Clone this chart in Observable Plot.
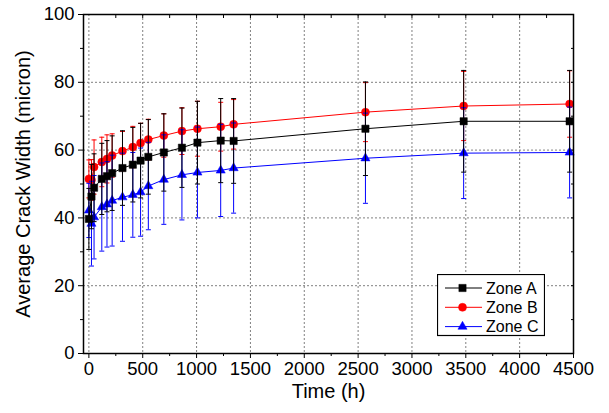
<!DOCTYPE html>
<html><head><meta charset="utf-8">
<script src="https://cdn.jsdelivr.net/npm/d3@7"></script>
<script src="https://cdn.jsdelivr.net/npm/@observablehq/plot@0.6"></script>
<style>
body{margin:0;background:#fff;font-family:"Liberation Sans",Arial,sans-serif;}
#wrap{position:relative;width:609px;height:413px;}
</style></head><body><div id="wrap"></div>
<script>
// time in hours
const times = [0, 24, 48, 120, 168, 216, 312, 408, 480, 552, 696, 864, 1008, 1224, 1344, 2568, 3480, 4464];
const zoneA = [39.7, 46.3, 48.9, 51.5, 52.3, 53.2, 54.7, 55.7, 56.9, 58.0, 59.3, 60.7, 62.2, 62.8, 62.7, 66.3, 68.5, 68.5];
const errA  = [9, 9.5, 10, 10.5, 10.5, 11, 11, 11, 11, 11, 11.4, 11.7, 12.2, 12.4, 12.5, 13.8, 15, 15];
const zoneB = [51.5, 51.2, 55.0, 56.5, 57.4, 58.4, 59.7, 60.9, 62.1, 63.1, 64.3, 65.6, 66.3, 66.9, 67.6, 71.2, 73.0, 73.6];
const errB  = [5.6, 6, 8, 7.3, 7.1, 6.4, 5.8, 6.1, 5.8, 6, 6.4, 6.9, 8.1, 7.2, 7.3, 8.7, 10.2, 9.8];
const zoneC = [42.2, 38.3, 40.2, 43.2, 44.0, 45.1, 46.1, 46.8, 47.6, 49.4, 51.3, 52.7, 53.4, 54.0, 54.7, 57.6, 59.1, 59.3];
const errC  = [8, 12.5, 12.3, 13, 12.6, 13.4, 13, 12.5, 13, 12.9, 13.2, 13.3, 13.4, 13.6, 13.3, 13.3, 13.4, 13.4];

const seriesNames = ["Zone A", "Zone B", "Zone C"];
const xMajor = d3.range(0, 4501, 500);
const xMinor = d3.range(250, 4500, 500);
const yMajor = d3.range(0, 101, 20);
const yMinor = d3.range(10, 100, 20);
const xGrid = d3.range(0, 4001, 500);
const yGrid = d3.range(20, 81, 20);

const styles = {
  "Zone A": {color: "#000000", symbol: "square", r: 4.1},
  "Zone B": {color: "#ff0000", symbol: "circle", r: 4},
  "Zone C": {color: "#0000ff", symbol: "triangle", r: 3.4}
};
const values = {"Zone A": [zoneA, errA], "Zone B": [zoneB, errB], "Zone C": [zoneC, errC]};
function rows(name) {
  const [v, e] = values[name];
  return times.map((t, i) => ({t, v: v[i], e: e[i]}));
}
const cap = {draw(ctx) { ctx.moveTo(-2.5, 0); ctx.lineTo(2.5, 0); }};

function seriesMarks(name) {
  const s = styles[name], data = rows(name);
  return [
    Plot.ruleX(data, {x: "t", y1: d => d.v - d.e, y2: d => d.v + d.e, stroke: s.color, strokeWidth: 1}),
    Plot.dot(data, {x: "t", y: d => d.v - d.e, symbol: cap, stroke: s.color, fill: "none", strokeWidth: 1}),
    Plot.dot(data, {x: "t", y: d => d.v + d.e, symbol: cap, stroke: s.color, fill: "none", strokeWidth: 1}),
    Plot.line(data, {x: "t", y: "v", stroke: s.color, strokeWidth: 1}),
    Plot.dot(data, {x: "t", y: "v", symbol: s.symbol, r: s.r, fill: s.color, stroke: s.color, strokeWidth: 0.5})
  ];
}

const chart = Plot.plot({
  width: 609, height: 413,
  marginLeft: 83, marginRight: 36, marginTop: 14, marginBottom: 60,
  style: {fontFamily: "'Liberation Sans', Arial, sans-serif", fontSize: "18.5px", color: "#000", background: "#fff"},
  x: {domain: [-50, 4500]},
  y: {domain: [0, 100]},
  marks: [
    Plot.gridX(xGrid, {stroke: "#808080", strokeOpacity: 1, strokeDasharray: "2,2", strokeWidth: 1}),
    Plot.gridY(yGrid, {stroke: "#808080", strokeOpacity: 1, strokeDasharray: "2,2", strokeWidth: 1}),
    Plot.axisX({ticks: xMajor, tickSize: 5, tickPadding: 3, label: null, tickFormat: d => String(d)}),
    Plot.axisX({ticks: xMinor, tickSize: 3, label: null, tickFormat: () => ""}),
    Plot.axisY({ticks: yMajor, tickSize: 5, tickPadding: 4, label: null, tickFormat: d => String(d)}),
    Plot.axisY({ticks: yMinor, tickSize: 3, label: null, tickFormat: () => ""}),
    Plot.axisY({anchor: "right", ticks: d3.range(10, 100, 10), tickSize: -3, label: null, tickFormat: () => ""}),
    Plot.axisX({anchor: "top", ticks: d3.range(250, 4500, 250), tickSize: -3, label: null, tickFormat: () => ""}),
    ...seriesMarks("Zone B"),
    ...seriesMarks("Zone C"),
    ...seriesMarks("Zone A"),
    Plot.frame({stroke: "#000", strokeWidth: 1.5}),
    Plot.text(["Time (h)"], {frameAnchor: "bottom", textAnchor: "middle", dy: 44, fontSize: 20, fill: "#000"}),
    Plot.text(["Average Crack Width (micron)"], {frameAnchor: "left", textAnchor: "middle", dx: -60, rotate: -90, fontSize: 20, fill: "#000"})
  ]
});
const wrap = document.getElementById("wrap");
wrap.appendChild(chart);

// Legend
const leg = d3.create("svg").attr("width", 108).attr("height", 63)
  .style("position", "absolute").style("left", "437px").style("top", "274px");
leg.append("rect").attr("x", 0.5).attr("y", 0.5).attr("width", 107).attr("height", 61)
  .attr("fill", "#fff").attr("stroke", "#000").attr("stroke-width", 1.2);
seriesNames.forEach((name, i) => {
  const s = styles[name];
  const cy = 14 + i * 19.3;
  leg.append("line").attr("x1", 8).attr("x2", 45).attr("y1", cy).attr("y2", cy)
    .attr("stroke", s.color).attr("stroke-width", 1);
  const sym = {square: d3.symbolSquare, circle: d3.symbolCircle, triangle: d3.symbolTriangle}[s.symbol];
  leg.append("path").attr("d", d3.symbol(sym, Math.PI * s.r * s.r)())
    .attr("transform", `translate(25.5,${cy})`).attr("fill", s.color).attr("stroke", s.color).attr("stroke-width", 0.5);
  leg.append("text").attr("x", 49).attr("y", cy).attr("dy", "0.35em")
    .attr("font-size", 16).attr("font-family", "'Liberation Sans', Arial, sans-serif").attr("fill", "#000").text(name);
});
wrap.appendChild(leg.node());
</script></body></html>
